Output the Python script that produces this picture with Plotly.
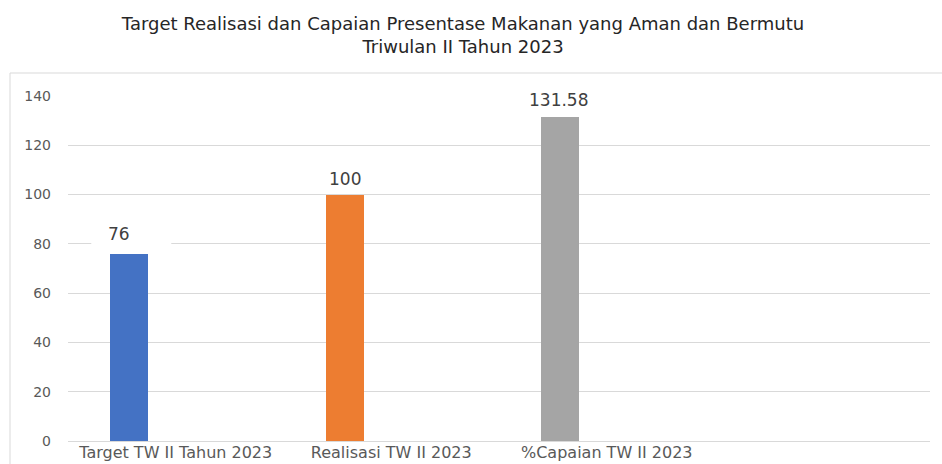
import plotly.graph_objects as go

# ---- data ----
categories = ["Target TW II Tahun 2023", "Realisasi TW II 2023", "%Capaian TW II 2023"]
values = [76, 100, 131.58]
value_labels = ["76", "100", "131.58"]
y_ticks = [0, 20, 40, 60, 80, 100, 120, 140]
title_lines = ["Target Realisasi dan Capaian Presentase Makanan yang Aman dan Bermutu",
               "Triwulan II Tahun 2023"]

# ---- style ----
colors = ["#4472C4", "#ED7D31", "#A5A5A5"]
bar_offset = -0.303
bar_width = 0.1745
label_xshift = [-10, 0, -2]
label_yshift = [20, 16, 17]
box_x = [(-38, 42), (-34, 63), (-51, 84)]
box_y = [(7, 33), (5, 31), (4, 30)]
grid_col = "#D9D9D9"

W, H = 942, 464
ml, mr, mt, mb = 68, 12, 96, 23
pw, ph = W - ml - mr, H - mt - mb

xs = list(range(len(categories)))

fig = go.Figure()
fig.add_trace(go.Bar(
    x=xs, y=values, offset=bar_offset, width=bar_width,
    marker=dict(color=colors, line=dict(width=0)),
    hoverinfo="skip", showlegend=False,
))

centers = [x + bar_offset + bar_width / 2 for x in xs]

shapes = []
shapes.append(dict(type="rect", xref="paper", yref="paper",
                   x0=(10 - ml) / pw, x1=1.2, y0=-0.3, y1=(H - mb - 73) / ph,
                   line=dict(color="#D9D9D9", width=1), fillcolor="rgba(0,0,0,0)",
                   layer="below"))
annotations = []
for c, v, t, xsft, ysft, bx, by in zip(centers, values, value_labels,
                                        label_xshift, label_yshift, box_x, box_y):
    shapes.append(dict(type="rect", xref="x", yref="y",
                       xsizemode="pixel", ysizemode="pixel",
                       xanchor=c, yanchor=v,
                       x0=bx[0], x1=bx[1], y0=by[0], y1=by[1],
                       line=dict(width=0), fillcolor="white", layer="above"))
    annotations.append(dict(x=c, y=v, xref="x", yref="y", text=t, showarrow=False,
                            xanchor="center", yanchor="middle",
                            xshift=xsft, yshift=ysft,
                            font=dict(family="DejaVu Sans", size=17, color="#404040")))

fig.update_layout(
    width=W, height=H,
    margin=dict(l=ml, r=mr, t=mt, b=mb, pad=0),
    paper_bgcolor="white", plot_bgcolor="white",
    title=dict(text="<br>".join(title_lines),
               x=463 / W, xref="container", xanchor="center",
               y=1 - 30 / H, yref="container", yanchor="middle",
               font=dict(family="DejaVu Sans", size=18, color="#262626")),
    xaxis=dict(range=[-0.5, 3.5], tickvals=xs, ticktext=categories,
               showgrid=False, zeroline=False, showline=False, ticks="",
               ticklabelstandoff=0, automargin=False,
               tickfont=dict(family="DejaVu Sans", size=16, color="#595959"),
               fixedrange=True),
    yaxis=dict(range=[0, 140], tickvals=y_ticks, showgrid=True,
               gridcolor=grid_col, gridwidth=1, zeroline=True,
               zerolinecolor=grid_col, zerolinewidth=1,
               showline=False, ticks="", ticklabelstandoff=16, automargin=False,
               tickfont=dict(family="DejaVu Sans", size=14, color="#595959"),
               fixedrange=True),
    shapes=shapes, annotations=annotations,
    bargap=0,
)

fig.write_html("out.html", config={"displayModeBar": False, "staticPlot": True},
               post_script="document.body.style.margin='0';document.body.style.overflow='hidden';")
